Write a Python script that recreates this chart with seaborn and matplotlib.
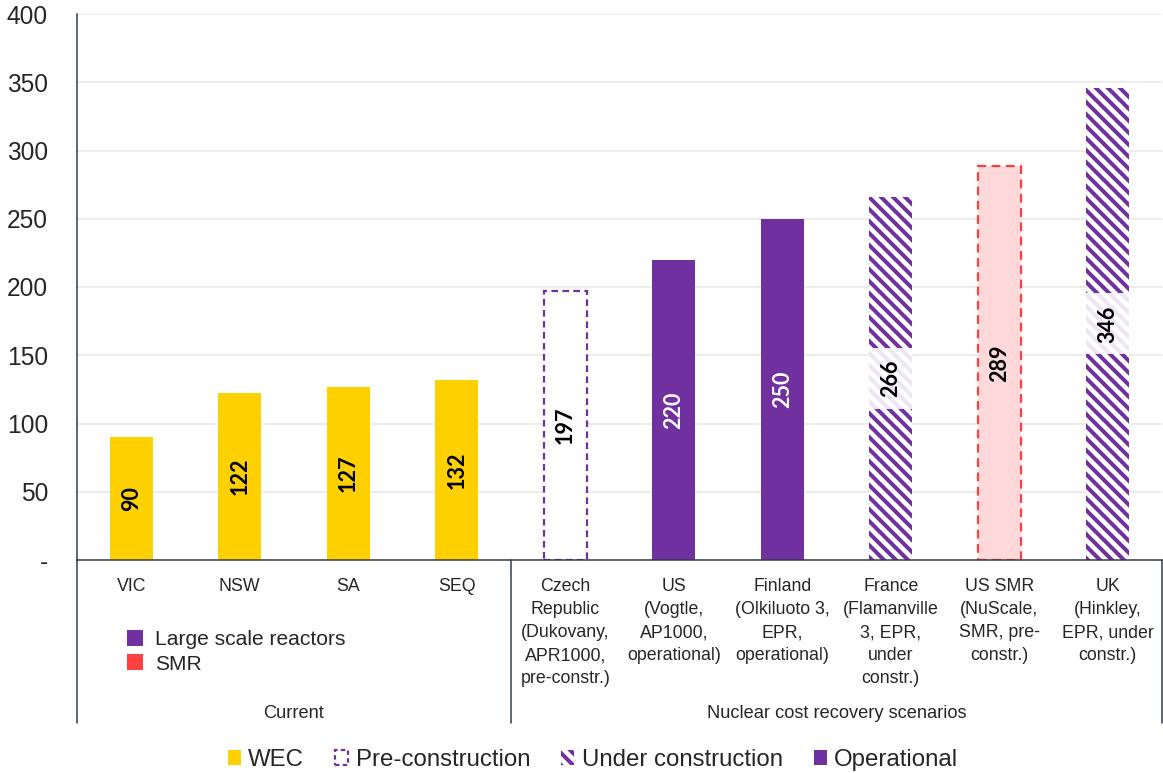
import matplotlib
matplotlib.use("Agg")
import matplotlib.pyplot as plt
from matplotlib.patches import Patch
from matplotlib.lines import Line2D
import seaborn as sns
import pandas as pd

# ---- data ---------------------------------------------------------------
sites = [
    "VIC", "NSW", "SA", "SEQ",
    "Czech\nRepublic\n(Dukovany,\nAPR1000,\npre-constr.)",
    "US\n(Vogtle,\nAP1000,\noperational)",
    "Finland\n(Olkiluoto 3,\nEPR,\noperational)",
    "France\n(Flamanville\n3, EPR,\nunder\nconstr.)",
    "US SMR\n(NuScale,\nSMR, pre-\nconstr.)",
    "UK\n(Hinkley,\nEPR, under\nconstr.)",
]
costs = [90, 122, 127, 132, 197, 220, 250, 266, 289, 346]
status = ["WEC", "WEC", "WEC", "WEC",
          "Pre-construction", "Operational", "Operational",
          "Under construction", "Pre-construction", "Under construction"]
technology = ["", "", "", "",
              "Large scale reactors", "Large scale reactors", "Large scale reactors",
              "Large scale reactors", "SMR", "Large scale reactors"]
groups = ["Current"] * 4 + ["Nuclear cost recovery scenarios"] * 6
y_ticks = [0, 50, 100, 150, 200, 250, 300, 350, 400]
y_tick_labels = ["-", "50", "100", "150", "200", "250", "300", "350", "400"]
status_legend = ["WEC", "Pre-construction", "Under construction", "Operational"]
tech_legend = ["Large scale reactors", "SMR"]

df = pd.DataFrame({"site": sites, "cost": costs, "status": status,
                   "tech": technology, "group": groups})

# ---- styling ------------------------------------------------------------
DPI = 144
W, H = 1163, 773
BACKSLASH = chr(92)
HATCH = BACKSLASH * 4


def pt(px):
    """Convert a size in output pixels to points."""
    return px * 72 / DPI


YELLOW = "#FFD000"
PURPLE = "#7030A0"
RED = "#FF4040"
PINK = "#FFD9D9"
DARK = "#2F3A48"
tech_color = {"Large scale reactors": PURPLE, "SMR": RED}

sns.set_style("white")
plt.rcParams["font.family"] = ["Liberation Sans", "DejaVu Sans"]
plt.rcParams["hatch.linewidth"] = pt(4.0)

fig = plt.figure(figsize=(W / DPI, H / DPI), dpi=DPI)
ax = fig.add_axes([77 / W, 1 - 560 / H, (1162 - 77) / W, (560 - 14) / H])


def face_for(st, tech):
    if st == "WEC":
        return YELLOW
    if st == "Operational":
        return PURPLE
    if st == "Pre-construction":
        return PINK if tech == "SMR" else "white"
    return "white"


palette = {s: face_for(st, t) for s, st, t in zip(sites, status, technology)}

sns.barplot(data=df, x="site", y="cost", hue="site", palette=palette,
            width=0.4, saturation=1, legend=False, ax=ax, linewidth=0)

bars = sorted(ax.patches, key=lambda p: p.get_x())
for bar, st, tech in zip(bars, status, technology):
    bar.set_facecolor(face_for(st, tech))
    if st == "Pre-construction":
        bar.set_edgecolor(tech_color[tech])
        bar.set_linewidth(pt(2.2))
        bar.set_linestyle((0, (4, 2.5)) if tech == "SMR" else (0, (3, 2.0)))
    elif st == "Under construction":
        bar.set_edgecolor(PURPLE)
        bar.set_linewidth(0)
        bar.set_hatch(HATCH)
    else:
        bar.set_edgecolor("none")

# value labels in the middle of each bar
for i, (v, st) in enumerate(zip(costs, status)):
    color = "white" if st == "Operational" else "black"
    bbox = None
    if st == "Under construction":
        bbox = dict(boxstyle="square,pad=0.55", fc="white", ec="none", alpha=0.88)
    ax.text(i, v / 2, str(v), rotation=90, ha="center", va="center",
            fontsize=pt(21.5), fontweight="bold", color=color, bbox=bbox,
            family=["Lato", "Liberation Sans"], zorder=5)

# axes
ax.set_xlim(-0.5, len(sites) - 0.5)
ax.set_ylim(0, 400)
ax.set_yticks(y_ticks)
ax.set_yticklabels(y_tick_labels, fontsize=pt(24.5))
ax.tick_params(axis="y", length=0, pad=pt(29))
ax.tick_params(axis="x", length=0, pad=pt(18), labelsize=pt(17.8))
for lbl in ax.get_xticklabels():
    lbl.set_linespacing(1.47)
ax.set_xlabel("")
ax.set_ylabel("")
ax.yaxis.grid(True, color="#E8E8E8", linewidth=pt(1.6))
ax.set_axisbelow(True)
for side in ("top", "right"):
    ax.spines[side].set_visible(False)
ax.spines["left"].set_color(DARK)
ax.spines["bottom"].set_color(DARK)
ax.spines["left"].set_linewidth(pt(1.5))
ax.spines["bottom"].set_linewidth(pt(1.5))

# group separators and labels below the axis
sep_bottom = -(723 - 560) / (560 - 14)
for xpos in (-0.5, 3.5, len(sites) - 0.5):
    ax.axvline(xpos, ymin=sep_bottom, ymax=0, color=DARK,
               linewidth=pt(1.5), clip_on=False)
group_names = list(dict.fromkeys(groups))
for g in group_names:
    idx = [i for i, gg in enumerate(groups) if gg == g]
    xc = (idx[0] + idx[-1]) / 2
    ax.text(xc, -(713 - 560) / (560 - 14) * 400, g, ha="center", va="center",
            fontsize=pt(18.3), clip_on=False)

# technology legend
tech_handles = [Line2D([], [], marker="s", linestyle="none", markersize=pt(16),
                       markerfacecolor=tech_color[t], markeredgecolor="none")
                for t in tech_legend]
fig.legend(tech_handles, tech_legend, loc="upper left",
           bbox_to_anchor=(118 / W, 1 - 622 / H), frameon=False,
           fontsize=pt(21), handlelength=0.8, handletextpad=0.55,
           labelspacing=0.25, borderaxespad=0)

# status legend
status_handles = [
    Patch(facecolor=YELLOW, edgecolor="none"),
    Patch(facecolor="white", edgecolor=PURPLE, linestyle=(0, (2, 1.5)), linewidth=pt(2.2)),
    Patch(facecolor="white", edgecolor=PURPLE, hatch=HATCH, linewidth=0),
    Patch(facecolor=PURPLE, edgecolor="none"),
]
fig.legend(status_handles, status_legend, loc="center",
           bbox_to_anchor=(593 / W, 1 - 760 / H), ncol=4, frameon=False,
           fontsize=pt(24), handlelength=0.55, handleheight=0.55,
           handletextpad=0.3, columnspacing=1.3, borderaxespad=0)

fig.savefig("out.png", dpi=DPI)
